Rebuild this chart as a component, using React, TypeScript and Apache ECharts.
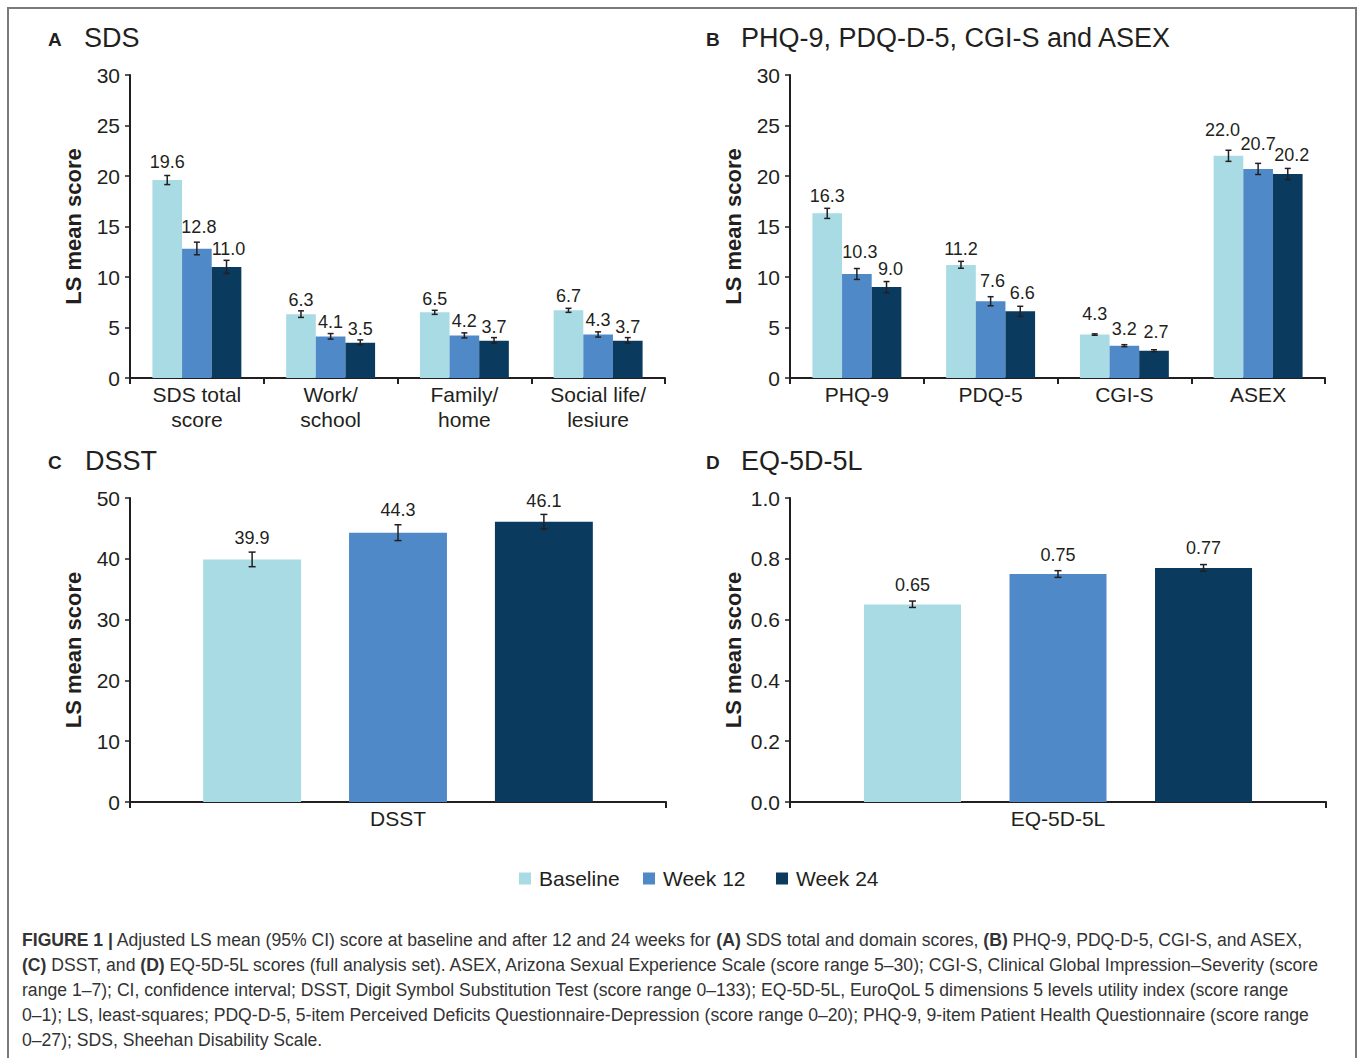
import { useEffect, useRef } from 'react';
import * as echarts from 'echarts';

// ---- Data ----
const seriesNames = ['Baseline', 'Week 12', 'Week 24'];
const seriesColors = ['#A9DBE4', '#4F89C7', '#0B3A5F'];

// A: SDS
const sdsCategories = ['SDS total\nscore', 'Work/\nschool', 'Family/\nhome', 'Social life/\nlesiure'];
const sdsBaseline = [19.6, 6.3, 6.5, 6.7];
const sdsWeek12 = [12.8, 4.1, 4.2, 4.3];
const sdsWeek24 = [11.0, 3.5, 3.7, 3.7];
const sdsBaselineCI = [[19.15, 20.05], [6.0, 6.65], [6.3, 6.7], [6.5, 6.9]];
const sdsWeek12CI = [[12.2, 13.45], [3.85, 4.4], [3.97, 4.47], [4.05, 4.57]];
const sdsWeek24CI = [[10.35, 11.65], [3.27, 3.77], [3.45, 4.0], [3.45, 4.0]];

// B: PHQ-9, PDQ-D-5, CGI-S and ASEX
const symCategories = ['PHQ-9', 'PDQ-5', 'CGI-S', 'ASEX'];
const symBaseline = [16.3, 11.2, 4.3, 22.0];
const symWeek12 = [10.3, 7.6, 3.2, 20.7];
const symWeek24 = [9.0, 6.6, 2.7, 20.2];
const symBaselineCI = [[15.8, 16.8], [10.87, 11.55], [4.23, 4.37], [21.45, 22.55]];
const symWeek12CI = [[9.76, 10.84], [7.15, 8.05], [3.1, 3.3], [20.15, 21.25]];
const symWeek24CI = [[8.45, 9.55], [6.1, 7.1], [2.6, 2.8], [19.65, 20.75]];

// C: DSST
const dsstCategories = ['DSST'];
const dsstBaseline = [39.9];
const dsstWeek12 = [44.3];
const dsstWeek24 = [46.1];
const dsstBaselineCI = [[38.7, 41.1]];
const dsstWeek12CI = [[43.0, 45.6]];
const dsstWeek24CI = [[44.9, 47.3]];

// D: EQ-5D-5L
const eqCategories = ['EQ-5D-5L'];
const eqBaseline = [0.65];
const eqWeek12 = [0.75];
const eqWeek24 = [0.77];
const eqBaselineCI = [[0.64, 0.661]];
const eqWeek12CI = [[0.739, 0.761]];
const eqWeek24CI = [[0.759, 0.781]];

const captionLines = [
  '{b|FIGURE 1 |} Adjusted LS mean (95% CI) score at baseline and after 12 and 24 weeks for {b|(A)} SDS total and domain scores, {b|(B)} PHQ-9, PDQ-D-5, CGI-S, and ASEX,',
  '{b|(C)} DSST, and {b|(D)} EQ-5D-5L scores (full analysis set). ASEX, Arizona Sexual Experience Scale (score range 5–30); CGI-S, Clinical Global Impression–Severity (score',
  'range 1–7); CI, confidence interval; DSST, Digit Symbol Substitution Test (score range 0–133); EQ-5D-5L, EuroQoL 5 dimensions 5 levels utility index (score range',
  '0–1); LS, least-squares; PDQ-D-5, 5-item Perceived Deficits Questionnaire-Depression (score range 0–20); PHQ-9, 9-item Patient Health Questionnaire (score range',
  '0–27); SDS, Sheehan Disability Scale.',
];

// ---- Layout ----
const FONT = '"Liberation Sans", Arial, Helvetica, sans-serif';
const INK = '#231F20';

type Panel = {
  letter: string;
  title: string;
  categories: string[];
  values: number[][];
  ci: number[][][];
  max: number;
  interval: number;
  tickDecimals: number;
  labelDecimals: number;
  grid: { left: number; top: number; width: number; height: number };
  catGap: number;
  barGap: number;
  capHalf: number;
  // value-label placement per series / category: gap above the bar and sideways nudge
  labelDist: number[][];
  labelDx: number[][];
  titleY: number;
  letterX: number;
  titleX: number;
};

const panels: Panel[] = [
  {
    letter: 'A', title: 'SDS', categories: sdsCategories,
    values: [sdsBaseline, sdsWeek12, sdsWeek24],
    ci: [sdsBaselineCI, sdsWeek12CI, sdsWeek24CI],
    max: 30, interval: 5, tickDecimals: 0, labelDecimals: 1,
    grid: { left: 130, top: 75, width: 535, height: 303 },
    catGap: 0.335, barGap: 0, capHalf: 3,
    labelDist: [[9, 5, 4, 5], [13, 6, 6, 6], [9, 5, 5, 5]],
    labelDx: [[0, 0, 0, 0], [2, 0, 0, 0], [2, 0, 0, 0]],
    titleY: 40, letterX: 48, titleX: 84,
  },
  {
    letter: 'B', title: 'PHQ-9, PDQ-D-5, CGI-S and ASEX', categories: symCategories,
    values: [symBaseline, symWeek12, symWeek24],
    ci: [symBaselineCI, symWeek12CI, symWeek24CI],
    max: 30, interval: 5, tickDecimals: 0, labelDecimals: 1,
    grid: { left: 790, top: 75, width: 535, height: 303 },
    catGap: 0.335, barGap: 0, capHalf: 3,
    labelDist: [[8, 7, 12, 17], [13, 11, 8, 16], [9, 9, 10, 10]],
    labelDx: [[0, 0, 0, -6], [3, 2, 0, 0], [4, 2, 2, 4]],
    titleY: 40, letterX: 706, titleX: 741,
  },
  {
    letter: 'C', title: 'DSST', categories: dsstCategories,
    values: [dsstBaseline, dsstWeek12, dsstWeek24],
    ci: [dsstBaselineCI, dsstWeek12CI, dsstWeek24CI],
    max: 50, interval: 10, tickDecimals: 0, labelDecimals: 1,
    grid: { left: 130, top: 498, width: 536, height: 304 },
    catGap: 0.273, barGap: 0.49, capHalf: 3.5,
    labelDist: [[12], [14], [12]],
    labelDx: [[0], [0], [0]],
    titleY: 463, letterX: 48, titleX: 85,
  },
  {
    letter: 'D', title: 'EQ-5D-5L', categories: eqCategories,
    values: [eqBaseline, eqWeek12, eqWeek24],
    ci: [eqBaselineCI, eqWeek12CI, eqWeek24CI],
    max: 1, interval: 0.2, tickDecimals: 1, labelDecimals: 2,
    grid: { left: 790, top: 498, width: 536, height: 304 },
    catGap: 0.276, barGap: 0.5, capHalf: 3.5,
    labelDist: [[10], [10], [11]],
    labelDx: [[0], [0], [0]],
    titleY: 463, letterX: 706, titleX: 741,
  },
];

function buildOption() {
  const grids: any[] = [];
  const xAxes: any[] = [];
  const yAxes: any[] = [];
  const series: any[] = [];
  const graphics: any[] = [];

  panels.forEach((p, pi) => {
    grids.push({ ...p.grid, containLabel: false });
    xAxes.push({
      type: 'category',
      gridIndex: pi,
      data: p.categories,
      axisLine: { show: true, lineStyle: { color: INK, width: 2 } },
      axisTick: { show: true, length: 6, lineStyle: { color: INK, width: 2 } },
      axisLabel: {
        interval: 0, fontSize: 21, lineHeight: 25, color: INK, fontFamily: FONT, margin: 4,
      },
    });
    yAxes.push({
      type: 'value',
      gridIndex: pi,
      min: 0,
      max: p.max,
      interval: p.interval,
      splitLine: { show: false },
      axisLine: { show: true, lineStyle: { color: INK, width: 2 } },
      axisTick: { show: true, length: 5, lineStyle: { color: INK, width: 1.5 } },
      axisLabel: {
        fontSize: 21, color: INK, fontFamily: FONT, margin: 10,
        formatter: (v: number) => v.toFixed(p.tickDecimals),
      },
      name: 'LS mean score',
      nameLocation: 'middle',
      nameGap: 46,
      nameRotate: 90,
      nameTextStyle: { fontSize: 22, fontWeight: 'bold', color: INK, fontFamily: FONT },
    });

    const n = seriesNames.length;
    p.values.forEach((vals, si) => {
      series.push({
        type: 'bar',
        name: seriesNames[si],
        xAxisIndex: pi,
        yAxisIndex: pi,
        data: vals.map((v, ci) => ({
          value: v,
          label: { distance: p.labelDist[si][ci], offset: [p.labelDx[si][ci], 0] },
        })),
        barGap: `${p.barGap * 100}%`,
        barCategoryGap: `${p.catGap * 100}%`,
        itemStyle: { color: seriesColors[si] },
        label: {
          show: true,
          position: 'top',
          fontSize: 18,
          color: INK,
          fontFamily: FONT,
          formatter: (d: any) => Number(d.value).toFixed(p.labelDecimals),
        },
        silent: true,
      });
    });

    p.ci.forEach((rows, si) => {
      series.push({
        type: 'custom',
        name: seriesNames[si] + ' CI',
        xAxisIndex: pi,
        yAxisIndex: pi,
        data: rows.map((r, ci) => [ci, r[0], r[1]]),
        encode: { x: 0, y: [1, 2] },
        z: 5,
        silent: true,
        renderItem: (_params: any, api: any) => {
          const cat = api.value(0);
          const lo = api.coord([cat, api.value(1)]);
          const hi = api.coord([cat, api.value(2)]);
          const band = api.size([1, 0])[0];
          const group = band * (1 - p.catGap);
          const w = group / (n + (n - 1) * p.barGap);
          const x = hi[0] - group / 2 + si * w * (1 + p.barGap) + w / 2;
          const st = { stroke: INK, lineWidth: 1.5 };
          return {
            type: 'group',
            children: [
              { type: 'line', shape: { x1: x, y1: lo[1], x2: x, y2: hi[1] }, style: st },
              { type: 'line', shape: { x1: x - p.capHalf, y1: hi[1], x2: x + p.capHalf, y2: hi[1] }, style: st },
              { type: 'line', shape: { x1: x - p.capHalf, y1: lo[1], x2: x + p.capHalf, y2: lo[1] }, style: st },
            ],
          };
        },
      });
    });

    graphics.push({
      type: 'text', left: p.letterX, top: p.titleY - 10,
      style: { text: p.letter, font: `bold 19px ${FONT}`, fill: INK },
    });
    graphics.push({
      type: 'text', left: p.titleX, top: p.titleY - 16,
      style: { text: p.title, font: `27px ${FONT}`, fill: INK },
    });
  });

  // frame
  graphics.push({
    type: 'rect',
    shape: { x: 8, y: 8, width: 1348, height: 1070 },
    style: { fill: 'none', stroke: '#7a7a7a', lineWidth: 2 },
    silent: true,
  });

  captionLines.forEach((line, i) => {
    graphics.push({
      type: 'text',
      left: 22,
      top: 931 + i * 25,
      style: {
        text: line,
        font: `17.6px ${FONT}`,
        fill: '#333333',
        rich: {
          b: { fontWeight: 'bold', fontSize: 17.6, fontFamily: FONT, fill: '#333333' },
        },
      },
    });
  });

  const legendX = [519, 643, 776];
  const legends = seriesNames.map((name, i) => ({
    data: [name],
    left: legendX[i],
    top: 868,
    icon: 'rect',
    itemWidth: 12,
    itemHeight: 12,
    selectedMode: false,
    textStyle: { fontSize: 21, color: INK, fontFamily: FONT, padding: [0, 0, 0, 3] },
    padding: 0,
  }));

  return {
    animation: false,
    backgroundColor: '#ffffff',
    textStyle: { fontFamily: FONT },
    grid: grids,
    xAxis: xAxes,
    yAxis: yAxes,
    legend: legends,
    series,
    graphic: graphics,
  };
}

export default function App() {
  const ref = useRef<HTMLDivElement>(null);
  useEffect(() => {
    if (!ref.current) return;
    const chart = echarts.init(ref.current, undefined, { renderer: 'svg' });
    chart.setOption(buildOption() as any);
    return () => chart.dispose();
  }, []);
  return (
    <div
      ref={ref}
      style={{ position: 'absolute', left: 0, top: 0, width: 1358, height: 1058, background: '#fff' }}
    />
  );
}
